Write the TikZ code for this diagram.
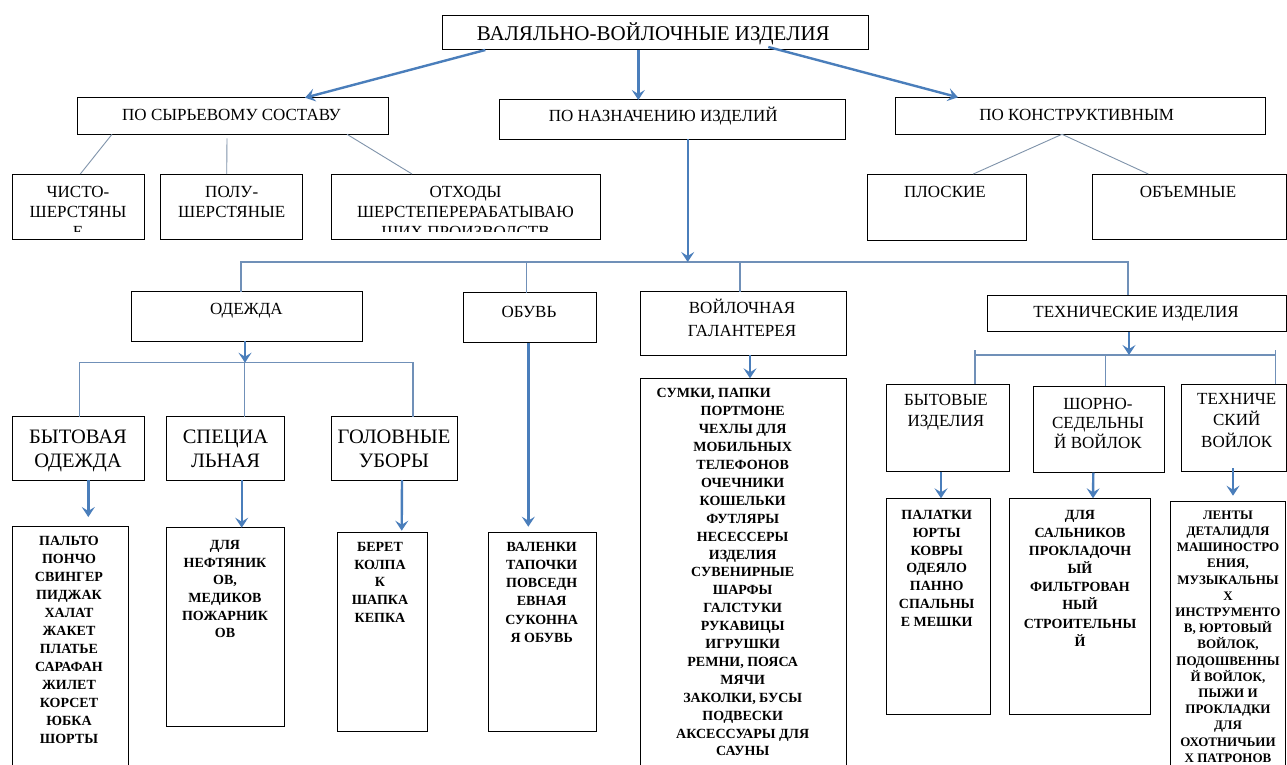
\documentclass[tikz,border=0pt]{standalone}
\usepackage{fontspec}
\setmainfont{Liberation Serif}
\usetikzlibrary{arrows.meta,calc}
\definecolor{arrblue}{HTML}{4A7EBB}
\definecolor{busblue}{HTML}{7090B8}
\definecolor{thinblue}{HTML}{7F93AA}
\newcommand\fRoot{\fontsize{21}{24}\selectfont}
\newcommand\fTwo{\fontsize{17}{20}\selectfont}
\newcommand\fThree{\fontsize{17}{20}\selectfont}
\newcommand\fBig{\fontsize{20.5}{23.5}\selectfont}
\newcommand\fList{\fontsize{14}{18}\selectfont\bfseries}
\newcommand\fTL{\fontsize{13}{16.2}\selectfont\bfseries}
\newcommand\bx[5]{\node[box, minimum width={#4pt-#2pt}, minimum height={#5pt-#3pt}] (#1) at (#2,#3) {};}
\begin{document}
\begin{tikzpicture}[x=1pt,y=-1pt,
  box/.style={draw=black, line width=1pt, rectangle, inner sep=0pt, outer sep=0pt, anchor=north west},
  txt/.style={anchor=north, inner sep=0pt, outer sep=0pt, align=center},
  arr/.style={draw=arrblue, line width=2.4pt, -{Stealth[length=10pt,width=13pt,inset=4pt]}},
  bus/.style={draw=busblue, line width=1.2pt},
  thinl/.style={draw=thinblue, line width=0.9pt},
]
\useasboundingbox (0,0) rectangle (1287,765);
\clip (0,0) rectangle (1287,765);
\fill[white] (0,0) rectangle (1287,765);

% ---------- boxes ----------
\bx{root}{442.3}{16}{868}{50}
\bx{syr}{77}{97.7}{388}{134.3}
\bx{naz}{499.3}{100}{845.7}{139.3}
\bx{kon}{895}{97.3}{1265.7}{134.3}
\bx{chisto}{12.3}{174}{144}{239.3}
\bx{polu}{160.7}{174}{302.7}{239.3}
\bx{otx}{331}{174}{600}{239.3}
\bx{plosk}{867.3}{174}{1026}{240.7}
\bx{obem}{1092.3}{174}{1286.3}{239.3}
\bx{odezhda}{131}{291.7}{362.3}{341}
\bx{obuv}{463.3}{292.7}{596.7}{342.7}
\bx{gal}{640.7}{291.7}{846}{355}
\bx{tech}{987.7}{295}{1286.3}{331.7}
\bx{bytod}{12.3}{416.7}{144}{480}
\bx{spec}{166.7}{416.7}{284}{480}
\bx{gol}{331}{416.7}{457}{480}
\bx{bytlist}{12.3}{526}{128.3}{775}
\bx{speclist}{166.7}{527.7}{284}{726.7}
\bx{gollist}{337.7}{532.7}{427.3}{731}
\bx{obuvlist}{488.3}{532.7}{596.7}{731.7}
\bx{gallist}{640.7}{378.3}{846}{775}
\bx{bytiz}{886}{384.3}{1009.3}{471.7}
\bx{shorn}{1033.3}{386}{1164.3}{472.7}
\bx{techv}{1181.7}{384.3}{1286.3}{471.7}
\bx{bytizlist}{886}{498.3}{990.7}{714.3}
\bx{shornlist}{1009.3}{498.3}{1150.7}{714.3}
\bx{techvlist}{1170}{501.7}{1285}{775}

% ---------- texts ----------
\node[txt, font=\fRoot] (rootT) at (653.3,23.2) {ВАЛЯЛЬНО-ВОЙЛОЧНЫЕ ИЗДЕЛИЯ};
\node[txt, font=\fTwo] (syrT) at (231.5,108.8) {ПО СЫРЬЕВОМУ СОСТАВУ};
\node[txt, font=\fTwo] (nazT) at (663.3,107.3) {ПО НАЗНАЧЕНИЮ ИЗДЕЛИЙ};
\node[txt, font=\fTwo] (konT) at (1076.7,109.5) {ПО КОНСТРУКТИВНЫМ};

\begin{scope}
  \clip (12.3,174) rectangle (144,231.7);
  \node[txt, font=\fThree] (chistoT) at (78,186.7) {ЧИСТО-\\ШЕРСТЯНЫ\\Е};
\end{scope}
\node[txt, font=\fThree] (poluT) at (231.7,186.7) {ПОЛУ-\\ШЕРСТЯНЫЕ};
\begin{scope}
  \clip (331,174) rectangle (600,231.7);
  \node[txt, font=\fThree] (otxT) at (465.5,186.7) {ОТХОДЫ\\ШЕРСТЕПЕРЕРАБАТЫВАЮ\\ЩИХ ПРОИЗВОДСТВ};
\end{scope}
\node[txt, font=\fThree] (ploskT) at (945,186.7) {ПЛОСКИЕ};
\node[txt, font=\fThree] (obemT) at (1188,186.7) {ОБЪЕМНЫЕ};

\node[txt, font=\fThree] (odezhdaT) at (246.5,303) {ОДЕЖДА};
\node[txt, font=\fThree] (obuvT) at (529,306) {ОБУВЬ};
\node[txt, font={\fontsize{17}{22.7}\selectfont}] (galT) at (742,299) {ВОЙЛОЧНАЯ\\ГАЛАНТЕРЕЯ};
\node[txt, font=\fThree] (techT) at (1136,306.7) {ТЕХНИЧЕСКИЕ ИЗДЕЛИЯ};

\node[txt, font=\fBig] (bytodT) at (78,430) {БЫТОВАЯ\\ОДЕЖДА};
\node[txt, font=\fBig] (specT) at (225.5,430) {СПЕЦИА\\ЛЬНАЯ};
\node[txt, font=\fBig] (golT) at (394,430) {ГОЛОВНЫЕ\\УБОРЫ};

\node[txt, font={\fontsize{17}{20.5}\selectfont}] (bytizT) at (946,394.3) {БЫТОВЫЕ\\ИЗДЕЛИЯ};
\node[txt, font={\fontsize{17}{19.5}\selectfont}] (shornT) at (1098,398) {ШОРНО-\\СЕДЕЛЬНЫ\\Й ВОЙЛОК};
\node[txt, font={\fontsize{17}{21.2}\selectfont}] (techvT) at (1236.7,393.5) {ТЕХНИЧЕ\\СКИЙ\\ВОЙЛОК};

\node[txt, font=\fList] (bytlistT) at (69,536) {ПАЛЬТО\\ПОНЧО\\СВИНГЕР\\ПИДЖАК\\ХАЛАТ\\ЖАКЕТ\\ПЛАТЬЕ\\САРАФАН\\ЖИЛЕТ\\КОРСЕТ\\ЮБКА\\ШОРТЫ};
\node[txt, font={\fontsize{14}{17.7}\selectfont\bfseries}] (speclistT) at (225,540.3) {ДЛЯ\\НЕФТЯНИК\\ОВ,\\МЕДИКОВ\\ПОЖАРНИК\\ОВ};
\node[txt, font={\fontsize{14}{17.9}\selectfont\bfseries}] (gollistT) at (380,542) {БЕРЕТ\\КОЛПА\\К\\ШАПКА\\КЕПКА};
\node[txt, font={\fontsize{14}{18.2}\selectfont\bfseries}] (obuvlistT) at (541.7,542) {ВАЛЕНКИ\\ТАПОЧКИ\\ПОВСЕДН\\ЕВНАЯ\\СУКОННА\\Я ОБУВЬ};
\node[txt, font={\fontsize{14}{17.9}\selectfont\bfseries}] (gallistT) at (742.7,388.7) {СУМКИ, ПАПКИ\hspace*{58pt}\\ПОРТМОНЕ\\ЧЕХЛЫ ДЛЯ\\МОБИЛЬНЫХ\\ТЕЛЕФОНОВ\\ОЧЕЧНИКИ\\КОШЕЛЬКИ\\ФУТЛЯРЫ\\НЕСЕССЕРЫ\\ИЗДЕЛИЯ\\СУВЕНИРНЫЕ\\ШАРФЫ\\ГАЛСТУКИ\\РУКАВИЦЫ\\ИГРУШКИ\\РЕМНИ, ПОЯСА\\МЯЧИ\\ЗАКОЛКИ, БУСЫ\\ПОДВЕСКИ\\АКСЕССУАРЫ ДЛЯ\\САУНЫ};
\node[txt, font={\fontsize{14}{17.8}\selectfont\bfseries}] (bytizlistT) at (936.7,510.3) {ПАЛАТКИ\\ЮРТЫ\\КОВРЫ\\ОДЕЯЛО\\ПАННО\\СПАЛЬНЫ\\Е МЕШКИ};
\node[txt, font={\fontsize{14}{18.1}\selectfont\bfseries}] (shornlistT) at (1080,510.3) {ДЛЯ\\САЛЬНИКОВ\\ПРОКЛАДОЧН\\ЫЙ\\ФИЛЬТРОВАН\\НЫЙ\\СТРОИТЕЛЬНЫ\\Й};
\node[txt, font=\fTL] (techvlistT) at (1228,510.7) {ЛЕНТЫ\\ДЕТАЛИДЛЯ\\МАШИНОСТРО\\ЕНИЯ,\\МУЗЫКАЛЬНЫ\\Х\\ИНСТРУМЕНТО\\В, ЮРТОВЫЙ\\ВОЙЛОК,\\ПОДОШВЕННЫ\\Й ВОЙЛОК,\\ПЫЖИ И\\ПРОКЛАДКИ\\ДЛЯ\\ОХОТНИЧЬИИ\\Х ПАТРОНОВ};

% ---------- connectors ----------
\draw[arr] ($(root.south west)+(43,0)$) -- ($(syr.north west)+(228,0)$);
\draw[arr] ($(root.south west)+(196,0)$) -- ($(naz.north west)+(139,0)$);
\draw[arr] ($(root.south west)+(326,-3)$) -- ($(kon.north west)+(63,0)$);

\draw[thinl] ($(syr.south west)+(35,0)$) -- ($(chisto.north west)+(68,0)$);
\draw[thinl] ($(syr.south west)+(150,4)$) -- ($(polu.north west)+(66,0)$);
\draw[thinl] ($(syr.south west)+(270,0)$) -- ($(otx.north west)+(81,0)$);
\draw[thinl] ($(kon.south west)+(167,0)$) -- ($(plosk.north west)+(106,0)$);
\draw[thinl] ($(kon.south west)+(167,0)$) -- ($(obem.north west)+(56,0)$);

% bus under ПО НАЗНАЧЕНИЮ
\coordinate (bus1) at (687.7,262);
\draw[bus] ($(odezhda.north west)+(110,0)$) |- (bus1);
\draw[bus] ($(obuv.north west)+(63,0)$) |- (bus1);
\draw[bus] ($(gal.north west)+(99.3,0)$) |- (bus1);
\draw[bus] ($(tech.north west)+(140.3,0)$) |- (bus1);
\draw[arr] ($(naz.south west)+(188.4,0)$) -- (bus1);

% bus under ОДЕЖДА
\coordinate (bus2) at (245,362.7);
\draw[bus] ($(bytod.north west)+(67,0)$) |- (bus2);
\draw[bus] ($(spec.north west)+(78,0)$) |- (bus2);
\draw[bus] ($(gol.north west)+(82,0)$) |- (bus2);
\draw[arr] ($(odezhda.south west)+(114,0)$) -- (bus2);

\draw[arr] ($(bytod.south west)+(76,0)$) -- ($(bytlist.north west)+(76,-9)$);
\draw[arr] ($(spec.south west)+(75,0)$) -- ($(speclist.north west)+(75,0)$);
\draw[arr] ($(gol.south west)+(71,0)$) -- ($(gollist.north west)+(64,-2)$);
\draw[arr] ($(obuv.south west)+(65,0)$) -- ($(obuvlist.north west)+(40,-6)$);
\draw[arr] ($(gal.south west)+(109.3,0)$) -- ($(gallist.north west)+(109.3,0)$);

% bus under ТЕХНИЧЕСКИЕ ИЗДЕЛИЯ
\coordinate (bus3) at (1129,355);
\draw[bus] ($(bytiz.north west)+(89,0)$) -- ($(bytiz.north west)+(89,-34.3)$);
\draw[bus] ($(techv.north west)+(94,0)$) -- ($(techv.north west)+(94,-34.3)$);
\draw[bus] ($(shorn.north west)+(72,0)$) |- (bus3);
\draw[bus] ($(bytiz.north west)+(89,-29.3)$) -- ($(techv.north west)+(94,-29.3)$);
\draw[arr] ($(tech.south west)+(141.3,0)$) -- (bus3);

\draw[arr] ($(bytiz.south west)+(55,0)$) -- ($(bytizlist.north west)+(55,0)$);
\draw[arr] ($(shorn.south west)+(60,0)$) -- ($(shornlist.north west)+(83.7,0)$);
\draw[arr] ($(techv.south west)+(51.3,-3.7)$) -- ($(techvlist.north west)+(63,-6)$);
\end{tikzpicture}
\end{document}
